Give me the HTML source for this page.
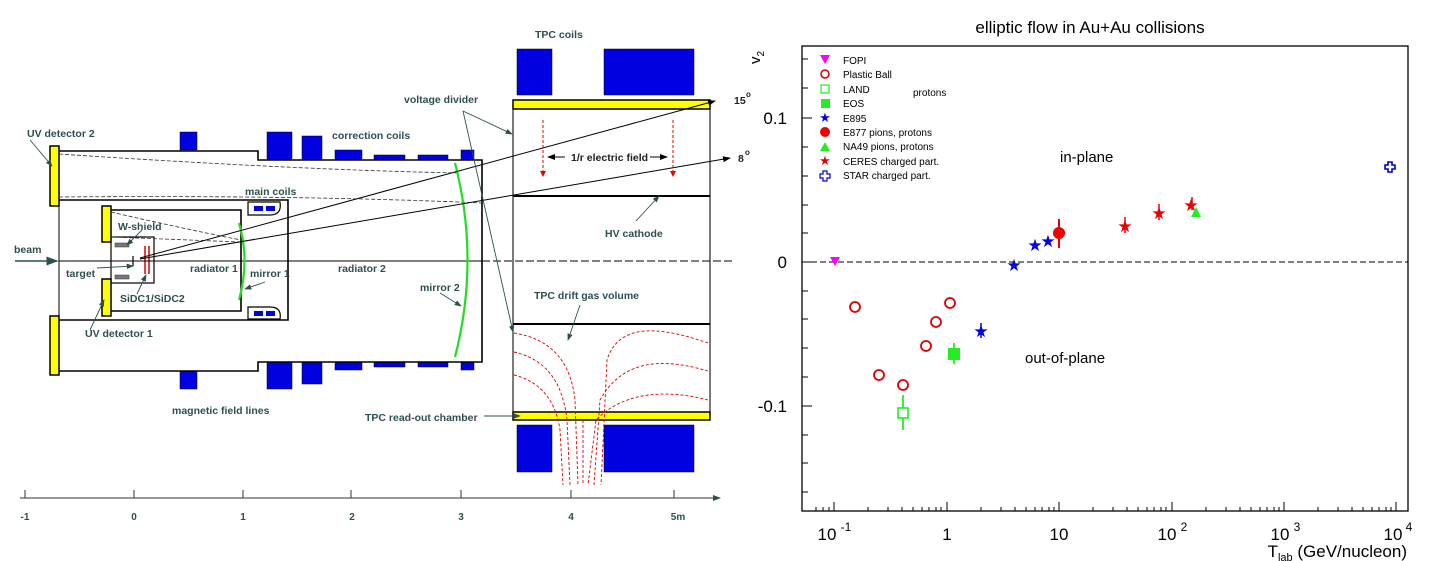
<!DOCTYPE html>
<html><head><meta charset="utf-8"><style>
html,body{margin:0;padding:0;background:#fff;}
svg{display:block;}
.l{font-family:"Liberation Sans",sans-serif;font-size:10.5px;font-weight:bold;fill:#2f4f4f;}
.p{font-family:"Liberation Sans",sans-serif;fill:#000;}
</style></head><body>
<svg width="1434" height="561" viewBox="0 0 1434 561" xmlns="http://www.w3.org/2000/svg">
<defs>
<marker id="ah" markerWidth="8" markerHeight="6" refX="7" refY="3" orient="auto"><path d="M0,0 L8,3 L0,6 z" fill="#2f4f4f"/></marker>
<marker id="ak" markerWidth="8" markerHeight="6" refX="7" refY="3" orient="auto"><path d="M0,0 L8,3 L0,6 z" fill="#000"/></marker>
<marker id="ar" markerWidth="6" markerHeight="6" refX="5" refY="3" orient="auto"><path d="M0,0 L6,3 L0,6 z" fill="#e00"/></marker>
</defs>
<g fill="#0000e0" stroke="#000" stroke-width="0.5">
<rect x="180" y="132" width="17" height="18"/><rect x="267" y="132" width="25" height="28"/><rect x="302" y="136" width="20" height="24"/>
<rect x="335" y="150" width="27" height="10"/><rect x="374" y="155" width="31" height="5"/><rect x="418" y="155" width="30" height="5"/><rect x="461" y="150" width="13" height="10"/>
<rect x="180" y="371" width="17" height="18"/><rect x="267" y="362" width="25" height="27"/><rect x="302" y="362" width="20" height="22"/>
<rect x="335" y="362" width="27" height="8"/><rect x="374" y="362" width="31" height="5"/><rect x="418" y="362" width="30" height="5"/><rect x="461" y="362" width="13" height="8"/>
<rect x="517" y="49" width="35" height="46"/><rect x="604" y="49" width="90" height="46"/>
<rect x="517" y="425" width="35" height="47"/><rect x="604" y="425" width="90" height="47"/>
</g>
<g fill="none" stroke="#000" stroke-width="1.6">
<path d="M59,151 H258 V160 H482 V362 H258 V371 H59"/>
<path d="M59,200 H288 V320 H59"/>
<path d="M111,210 H241 V311 H111"/>
<rect x="111" y="237" width="43" height="46" stroke-width="1.2"/>
<path d="M248,202 H280 Q282,215 270,215 H248 Z" stroke-width="1.2"/>
<path d="M248,319 H280 Q282,307 270,307 H248 Z" stroke-width="1.2"/>
<line x1="59" y1="206" x2="59" y2="316" stroke-width="1"/>
</g>
<g fill="#0000e0"><rect x="254" y="206" width="9" height="5"/><rect x="266" y="206" width="9" height="5"/><rect x="254" y="311" width="9" height="5"/><rect x="266" y="311" width="9" height="5"/></g>
<g fill="#ffff00" stroke="#000" stroke-width="1.5">
<rect x="50" y="146" width="9" height="60"/><rect x="50" y="316" width="9" height="59"/>
<rect x="102" y="206" width="9" height="36"/><rect x="102" y="279" width="9" height="37"/>
<rect x="513" y="100" width="197" height="9"/><rect x="513" y="412" width="197" height="8"/>
</g>
<g fill="#777" stroke="#333" stroke-width="0.5"><rect x="115" y="243" width="14" height="4"/><rect x="115" y="275" width="14" height="4"/></g>
<g stroke="#d00" stroke-width="1.5"><line x1="145" y1="246" x2="145" y2="274"/><line x1="149" y1="246" x2="149" y2="274"/></g>
<path d="M133,256 V266" stroke="#000" stroke-width="1.2"/>
<g stroke="#222" stroke-width="1.2"><line x1="513" y1="109" x2="513" y2="412"/><line x1="710" y1="109" x2="710" y2="412"/></g>
<g stroke="#000" stroke-width="2"><line x1="513" y1="196" x2="710" y2="196"/><line x1="513" y1="324" x2="710" y2="324"/></g>
<line x1="59" y1="261" x2="482" y2="261" stroke="#000" stroke-width="1"/>
<line x1="482" y1="261" x2="735" y2="261" stroke="#000" stroke-width="1" stroke-dasharray="8,3"/>
<line x1="15" y1="261" x2="57" y2="261" stroke="#2f4f4f" stroke-width="1.5" marker-end="url(#ah)"/>
<g fill="none" stroke="#333" stroke-width="0.8" stroke-dasharray="4,2">
<path d="M59,154 Q300,170 460,173"/>
<path d="M59,197 Q300,195 482,203"/>
<path d="M111,212 Q180,228 241,240"/>
<path d="M111,237 L241,242"/>
</g>
<g fill="none" stroke="#22dd22" stroke-width="2.2"><path d="M239,223 Q250,260 239,300"/><path d="M455,163 Q480,260 455,357"/></g>
<g stroke="#000" stroke-width="1" fill="none"><line x1="140" y1="258" x2="715" y2="101" marker-end="url(#ak)"/><line x1="140" y1="259" x2="730" y2="158" marker-end="url(#ak)"/></g>
<g stroke="#e00" stroke-width="1" stroke-dasharray="3,2"><line x1="543" y1="120" x2="543" y2="176" marker-end="url(#ar)"/><line x1="673" y1="120" x2="673" y2="176" marker-end="url(#ar)"/></g>
<g stroke="#000" stroke-width="1"><line x1="565" y1="157" x2="548" y2="157" marker-end="url(#ak)"/><line x1="650" y1="157" x2="667" y2="157" marker-end="url(#ak)"/></g>
<text x="571" y="161" class="l" style="fill:#222">1/r electric field</text>
<g fill="none" stroke="#d00" stroke-width="0.9" stroke-dasharray="3,2">
<path d="M514,333 C545,338 570,355 575,400 L578,485"/>
<path d="M514,352 C540,358 562,375 567,420 L570,485"/>
<path d="M514,375 C535,380 555,395 560,430 L563,485"/>
<path d="M708,343 C670,330 620,318 607,360 L601,485"/>
<path d="M708,371 C670,360 625,355 600,400 L594,485"/>
<path d="M708,400 C670,390 625,390 596,420 L588,485"/>
<path d="M583,420 L583,485"/>
</g>
<g stroke="#2f4f4f" stroke-width="0.9" fill="none">
<line x1="30" y1="140" x2="52" y2="166" marker-end="url(#ah)"/>
<line x1="90" y1="330" x2="104" y2="300" marker-end="url(#ah)"/>
<line x1="142" y1="230" x2="127" y2="245" marker-end="url(#ah)"/>
<line x1="97" y1="268" x2="133" y2="266" marker-end="url(#ah)"/>
<line x1="137" y1="294" x2="146" y2="275" marker-end="url(#ah)"/>
<line x1="265" y1="282" x2="245" y2="289" marker-end="url(#ah)"/>
<line x1="440" y1="293" x2="461" y2="306" marker-end="url(#ah)"/>
<line x1="463" y1="111" x2="512" y2="134" marker-end="url(#ah)"/>
<line x1="463" y1="111" x2="513" y2="332" marker-end="url(#ah)"/>
<line x1="636" y1="221" x2="659" y2="196" marker-end="url(#ah)"/>
<line x1="580" y1="305" x2="568" y2="340" marker-end="url(#ah)"/>
<line x1="484" y1="416" x2="520" y2="416" marker-end="url(#ah)"/>
</g>
<g class="l">
<text x="27" y="137">UV detector 2</text>
<text x="332" y="139">correction coils</text>
<text x="245" y="195">main coils</text>
<text x="118" y="230">W-shield</text>
<text x="14" y="253">beam</text>
<text x="66" y="277">target</text>
<text x="190" y="272">radiator 1</text>
<text x="250" y="277">mirror 1</text>
<text x="338" y="272">radiator 2</text>
<text x="120" y="302">SiDC1/SiDC2</text>
<text x="85" y="337">UV detector 1</text>
<text x="420" y="291">mirror 2</text>
<text x="172" y="414">magnetic field lines</text>
<text x="535" y="38">TPC coils</text>
<text x="404" y="103">voltage divider</text>
<text x="605" y="237">HV cathode</text>
<text x="534" y="299">TPC drift gas volume</text>
<text x="365" y="421">TPC read-out chamber</text>
<text x="734" y="104" style="fill:#222">15</text><text x="746" y="97" style="font-size:8px;fill:#222">o</text>
<text x="738" y="162" style="fill:#222">8</text><text x="745" y="155" style="font-size:8px;fill:#222">o</text>
</g>
<line x1="20" y1="498" x2="720" y2="498" stroke="#333" stroke-width="1" marker-end="url(#ah)"/>
<g stroke="#333" stroke-width="1"><line x1="25" y1="490" x2="25" y2="498"/><line x1="134" y1="490" x2="134" y2="498"/><line x1="243" y1="490" x2="243" y2="498"/><line x1="351" y1="490" x2="351" y2="498"/><line x1="461" y1="490" x2="461" y2="498"/><line x1="571" y1="490" x2="571" y2="498"/><line x1="674" y1="490" x2="674" y2="498"/></g>
<g class="l" style="font-size:10px" text-anchor="middle">
<text x="25" y="520">-1</text><text x="134" y="520">0</text><text x="243" y="520">1</text><text x="352" y="520">2</text><text x="461" y="520">3</text><text x="571" y="520">4</text><text x="678" y="520">5m</text></g>

<text x="1090" y="33" class="p" text-anchor="middle" style="font-size:17px">elliptic flow in Au+Au collisions</text>
<rect x="802" y="46" width="606" height="465" fill="none" stroke="#000" stroke-width="1.3"/>
<line x1="802" y1="262" x2="1408" y2="262" stroke="#000" stroke-width="1" stroke-dasharray="6,3"/>
<g stroke="#000" stroke-width="1">
<line x1="802" y1="59" x2="808" y2="59"/><line x1="802" y1="88" x2="808" y2="88"/><line x1="802" y1="118" x2="812" y2="118"/><line x1="802" y1="147" x2="808" y2="147"/><line x1="802" y1="176" x2="808" y2="176"/><line x1="802" y1="205" x2="808" y2="205"/><line x1="802" y1="233" x2="808" y2="233"/><line x1="802" y1="262" x2="812" y2="262"/><line x1="802" y1="291" x2="808" y2="291"/><line x1="802" y1="319" x2="808" y2="319"/><line x1="802" y1="348" x2="808" y2="348"/><line x1="802" y1="377" x2="808" y2="377"/><line x1="802" y1="406" x2="812" y2="406"/><line x1="802" y1="435" x2="808" y2="435"/><line x1="802" y1="463" x2="808" y2="463"/><line x1="802" y1="492" x2="808" y2="492"/>
</g>
<g class="p" style="font-size:17px" text-anchor="end"><text x="787" y="124">0.1</text><text x="787" y="268">0</text><text x="787" y="412">-0.1</text></g>
<text transform="translate(760,64) rotate(-90)" class="p" style="font-size:15px">v<tspan style="font-size:10px" dy="4">2</tspan></text>
<g class="p" style="font-size:17px" text-anchor="middle">
<text x="827" y="540">10</text><text x="846" y="531" style="font-size:12px">-1</text>
<text x="947" y="540">1</text><text x="1059" y="540">10</text>
<text x="1167" y="540">10</text><text x="1184" y="531" style="font-size:12px">2</text>
<text x="1280" y="540">10</text><text x="1297" y="531" style="font-size:12px">3</text>
<text x="1393" y="540">10</text><text x="1409" y="531" style="font-size:12px">4</text>
</g>
<text x="1407" y="557" class="p" text-anchor="end" style="font-size:17px">T<tspan style="font-size:11px" dy="4">lab</tspan><tspan dy="-4"> (GeV/nucleon)</tspan></text>
<g stroke="#000" stroke-width="1">
<path d="M816,511v-4M823,511v-4M829,511v-4M834,511v-9M868,511v-4M888,511v-4M902,511v-4M913,511v-4M922,511v-4M929,511v-4M936,511v-4M941,511v-4M947,511v-9M981,511v-4M1001,511v-4M1015,511v-4M1026,511v-4M1035,511v-4M1042,511v-4M1049,511v-4M1054,511v-4M1059,511v-9M1093,511v-4M1113,511v-4M1127,511v-4M1138,511v-4M1147,511v-4M1154,511v-4M1161,511v-4M1166,511v-4M1172,511v-9M1206,511v-4M1226,511v-4M1240,511v-4M1251,511v-4M1260,511v-4M1267,511v-4M1274,511v-4M1279,511v-4M1284,511v-9M1318,511v-4M1338,511v-4M1352,511v-4M1363,511v-4M1372,511v-4M1379,511v-4M1386,511v-4M1391,511v-4M1396,511v-9"/>
</g>
<g class="p" style="font-size:10px">
<text x="843" y="64">FOPI</text><text x="843" y="78">Plastic Ball</text><text x="843" y="93">LAND</text><text x="843" y="107">EOS</text><text x="843" y="122">E895</text><text x="843" y="136">E877 pions, protons</text><text x="843" y="150">NA49 pions, protons</text><text x="843" y="165">CERES  charged part.</text><text x="843" y="179">STAR  charged part.</text>
<text x="913" y="96">protons</text>
</g>
<text x="1060" y="162" class="p" style="font-size:15px">in-plane</text>
<text x="1025" y="363" class="p" style="font-size:15px">out-of-plane</text>
<path d="M820,55 h10 l-5,9 z" fill="#f0f"/>
<circle cx="825" cy="74" r="4" fill="none" stroke="#d00" stroke-width="1.5"/>
<rect x="821" y="85" width="8" height="8" fill="none" stroke="#2e2" stroke-width="1.2"/>
<rect x="821" y="99" width="9" height="9" fill="#2e2"/>
<text x="825" y="122" text-anchor="middle" style="font-size:13px;fill:#00e">★</text>
<circle cx="825" cy="132" r="5" fill="#e00"/>
<path d="M820,151 l5,-9 l5,9 z" fill="#2e2"/>
<text x="825" y="165" text-anchor="middle" style="font-size:13px;fill:#e00">★</text>
<path d="M823,171h4v3h3v4h-3v3h-4v-3h-3v-4h3z" fill="none" stroke="#00c" stroke-width="1.2"/>
<path d="M830,257 h10 l-5,9 z" fill="#f0f"/>
<g fill="none" stroke="#d00" stroke-width="1.8">
<circle cx="855" cy="307" r="5"/><circle cx="879" cy="375" r="5"/><circle cx="903" cy="385" r="5"/><circle cx="926" cy="346" r="5"/><circle cx="936" cy="322" r="5"/><circle cx="950" cy="303" r="5"/></g>
<line x1="903" y1="395" x2="903" y2="430" stroke="#2e2" stroke-width="1.8"/>
<rect x="898" y="408" width="10" height="10" fill="#fff" stroke="#2e2" stroke-width="1.6"/>
<line x1="954" y1="343" x2="954" y2="364" stroke="#2e2" stroke-width="1.8"/>
<rect x="948" y="348" width="12" height="12" fill="#2e2"/>
<g fill="#00e" style="font-family:'DejaVu Sans',sans-serif;font-size:17px" text-anchor="middle">
<text x="981" y="337">★</text><text x="1014" y="271">★</text><text x="1035" y="251">★</text><text x="1048" y="247">★</text></g>
<line x1="981" y1="323" x2="981" y2="338" stroke="#00e" stroke-width="1.5"/>
<line x1="1059" y1="219" x2="1059" y2="248" stroke="#e00" stroke-width="2"/>
<circle cx="1059" cy="233" r="6" fill="#e00"/>
<g stroke="#e00" stroke-width="1.5"><line x1="1125" y1="217" x2="1125" y2="233"/><line x1="1159" y1="204" x2="1159" y2="220"/><line x1="1192" y1="197" x2="1192" y2="210"/></g>
<g fill="#e00" style="font-family:'DejaVu Sans',sans-serif;font-size:17px" text-anchor="middle">
<text x="1125" y="232">★</text><text x="1159" y="219">★</text><text x="1191" y="211">★</text></g>
<path d="M1191,217 l5,-10 l5,10 z" fill="#2e2"/>
<path d="M1388,162h4v3h3v4h-3v3h-4v-3h-3v-4h3z" fill="none" stroke="#00c" stroke-width="1.6"/>
</svg>
</body></html>
